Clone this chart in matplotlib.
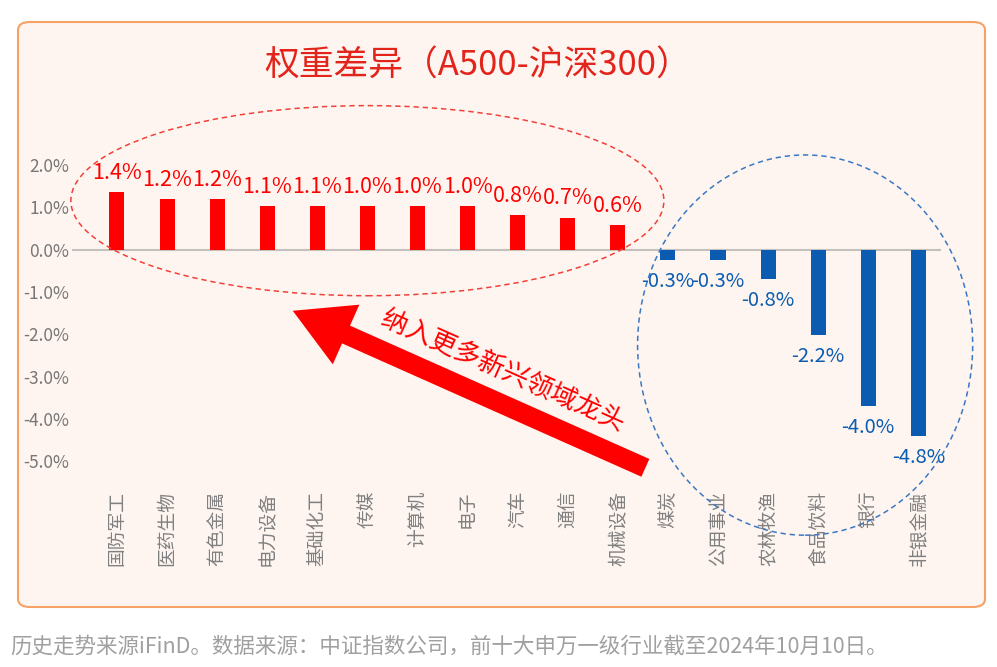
import matplotlib
matplotlib.use("Agg")
import matplotlib.pyplot as plt
from matplotlib.patches import Ellipse, FancyBboxPatch

plt.rcParams["font.family"] = ["Noto Sans CJK SC", "DejaVu Sans"]

categories = ["国防军工", "医药生物", "有色金属", "电力设备", "基础化工", "传媒", "计算机",
              "电子", "汽车", "通信", "机械设备", "煤炭", "公用事业", "农林牧渔",
              "食品饮料", "银行", "非银金融"]
weight_diff = [1.36, 1.20, 1.20, 1.03, 1.03, 1.03, 1.03, 1.03, 0.82, 0.76, 0.58,
               -0.24, -0.24, -0.69, -2.01, -3.69, -4.40]
value_labels = ["1.4%", "1.2%", "1.2%", "1.1%", "1.1%", "1.0%", "1.0%", "1.0%", "0.8%",
                "0.7%", "0.6%", "-0.3%", "-0.3%", "-0.8%", "-2.2%", "-4.0%", "-4.8%"]
y_ticks = [2, 1, 0, -1, -2, -3, -4, -5]

RED = "#FF0000"
BLUE = "#0B5CB0"

fig = plt.figure(figsize=(9.97, 6.67), dpi=100)
fig.patch.set_facecolor("white")

# rounded background panel
panel = FancyBboxPatch((18 / 997, 1 - 607 / 667), 967 / 997, 585 / 667,
                       boxstyle="round,pad=0,rounding_size=0.012",
                       transform=fig.transFigure, facecolor="#FEF5F0",
                       edgecolor="#F6A266", linewidth=1.5, zorder=-1)
fig.patches.append(panel)

ax = fig.add_axes([0.0721, 0.2954, 0.8716, 0.4888])
ax.set_facecolor("none")
for s in ax.spines.values():
    s.set_visible(False)

x = list(range(len(categories)))
colors = [RED if v >= 0 else BLUE for v in weight_diff]
ax.bar(x, weight_diff, width=0.3, color=colors, zorder=3)
ax.axhline(0, color="#C4C0BE", linewidth=1.5, zorder=2)

for xi, v, lab, c in zip(x, weight_diff, value_labels, colors):
    if v >= 0:
        ax.annotate(lab, (xi, v), xytext=(0, 6), textcoords="offset points",
                    ha="center", va="bottom", color=c, fontsize=15.5)
    else:
        ax.annotate(lab, (xi, v), xytext=(0, -8), textcoords="offset points",
                    ha="center", va="top", color=c, fontsize=14.5)

ax.set_xlim(-0.9, 16.45)
ax.set_ylim(-5.2, 2.5)
ax.set_yticks(y_ticks)
ax.set_yticklabels([f"{t:.1f}%" for t in y_ticks], color="#777777", fontsize=12.5,
                   fontweight="medium")
ax.set_xticks(x)
ax.set_xticklabels(categories, rotation=90, color="#808080", fontsize=13.5)
ax.tick_params(axis="both", length=0)
ax.tick_params(axis="x", pad=15)
ax.tick_params(axis="y", pad=2)

# dashed ellipses
ax.add_patch(Ellipse((5.0, 1.16), 11.84, 4.49, fill=False, edgecolor="#F2403A",
                     linestyle=(0, (3.5, 2.5)), linewidth=1.1, clip_on=False, zorder=4))
ax.add_patch(Ellipse((13.74, -2.25), 6.69, 8.98, fill=False, edgecolor="#3A78C4",
                     linestyle=(0, (3.5, 2.5)), linewidth=1.1, clip_on=False, zorder=4))

# big arrow
ax.annotate("", xy=(3.51, -1.44), xytext=(10.55, -5.15), annotation_clip=False,
            arrowprops=dict(arrowstyle="simple,head_length=42,head_width=47,tail_width=14",
                            mutation_scale=1, color=RED, lw=0, shrinkA=0, shrinkB=0,
                            clip_on=False), zorder=5)
ax.text(7.7, -2.88, "纳入更多新兴领域龙头", rotation=-24, rotation_mode="anchor",
        ha="center", va="center", color=RED, fontsize=19, zorder=6)

fig.text(478 / 997, 1 - 66 / 667, "权重差异（A500-沪深300）", ha="center", va="center",
         color="#E2241B", fontsize=25, fontweight="medium")
fig.text(10 / 997, 1 - 647 / 667,
         "历史走势来源iFinD。数据来源：中证指数公司，前十大申万一级行业截至2024年10月10日。",
         ha="left", va="center", color="#A0A0A0", fontsize=15.5)

fig.savefig("out.png", dpi=100)
